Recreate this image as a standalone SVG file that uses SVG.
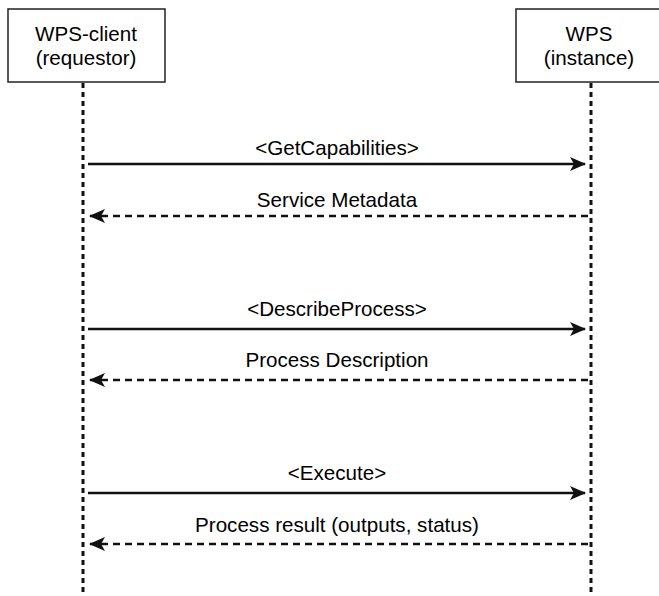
<svg xmlns="http://www.w3.org/2000/svg" width="659" height="596" viewBox="0 0 659 596">
<defs>
<style>
.box{fill:#fff;stroke:#222;stroke-width:1.5}
.t{font-family:"Liberation Sans",Arial,sans-serif;font-size:20.6px;fill:#000;text-anchor:middle}
.life{stroke:#111;stroke-width:3;stroke-dasharray:5 4;fill:none}
.msg{stroke:#111;stroke-width:2.6;fill:none}
.ret{stroke:#111;stroke-width:2.6;fill:none;stroke-dasharray:7 5}
</style>
<marker id="ah" viewBox="0 0 16 14" refX="15" refY="7" markerWidth="16" markerHeight="14" markerUnits="userSpaceOnUse" orient="auto">
<path d="M0,0 L16,7 L0,14 L4,7 Z" fill="#111"/>
</marker>
</defs>
<rect width="659" height="596" fill="#fff"/>
<g id="lifelines">
<line class="life" x1="83" y1="83" x2="83" y2="596"/>
<line class="life" x1="591" y1="83" x2="591" y2="596"/>
</g>
<g id="client">
<rect class="box" x="8" y="9" width="157" height="73"/>
<text class="t" x="86" y="41">WPS-client</text>
<text class="t" x="86" y="64.5">(requestor)</text>
</g>
<g id="wps">
<rect class="box" x="516" y="9" width="150" height="73"/>
<text class="t" x="589" y="41">WPS</text>
<text class="t" x="589" y="64.5">(instance)</text>
</g>
<g id="connectors">
<line class="msg" x1="88" y1="164" x2="585" y2="164" marker-end="url(#ah)"/>
<text class="t" x="337" y="155">&lt;GetCapabilities&gt;</text>
<line class="ret" x1="588" y1="216" x2="90" y2="216" marker-end="url(#ah)"/>
<text class="t" x="337" y="207">Service Metadata</text>
<line class="msg" x1="88" y1="329" x2="585" y2="329" marker-end="url(#ah)"/>
<text class="t" x="337" y="316">&lt;DescribeProcess&gt;</text>
<line class="ret" x1="588" y1="380" x2="90" y2="380" marker-end="url(#ah)"/>
<text class="t" x="337" y="367">Process Description</text>
<line class="msg" x1="88" y1="493" x2="585" y2="493" marker-end="url(#ah)"/>
<text class="t" x="337" y="480">&lt;Execute&gt;</text>
<line class="ret" x1="588" y1="544" x2="90" y2="544" marker-end="url(#ah)"/>
<text class="t" x="337" y="532">Process result (outputs, status)</text>
</g>
</svg>
